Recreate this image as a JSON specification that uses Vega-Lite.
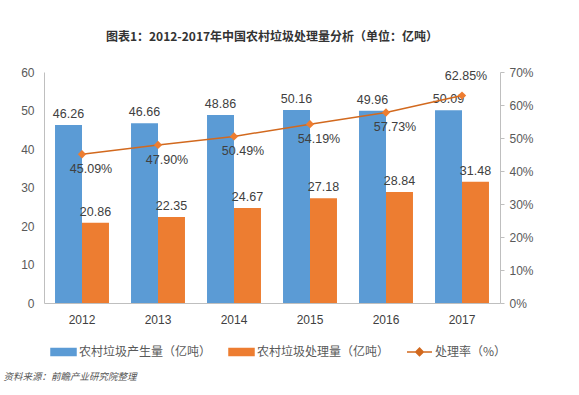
{
  "$schema": "https://vega.github.io/schema/vega-lite/v6.json",
  "autosize": "none",
  "width": 456,
  "height": 231,
  "padding": {"left": 44, "top": 72, "right": 79, "bottom": 92},
  "background": "#ffffff",
  "title": {
    "text": "图表1：2012-2017年中国农村垃圾处理量分析（单位：亿吨）",
    "font": "Noto Sans CJK SC",
    "fontSize": 12,
    "fontWeight": "bold",
    "color": "#333333",
    "offset": 22
  },
  "config": {
    "view": {"stroke": null},
    "font": "Noto Sans CJK SC"
  },
  "datasets": {
    "bars": [
      {"year": "2012", "series": "农村垃圾产生量（亿吨）", "value": 46.26},
      {"year": "2012", "series": "农村垃圾处理量（亿吨）", "value": 20.86},
      {"year": "2013", "series": "农村垃圾产生量（亿吨）", "value": 46.66},
      {"year": "2013", "series": "农村垃圾处理量（亿吨）", "value": 22.35},
      {"year": "2014", "series": "农村垃圾产生量（亿吨）", "value": 48.86},
      {"year": "2014", "series": "农村垃圾处理量（亿吨）", "value": 24.67},
      {"year": "2015", "series": "农村垃圾产生量（亿吨）", "value": 50.16},
      {"year": "2015", "series": "农村垃圾处理量（亿吨）", "value": 27.18},
      {"year": "2016", "series": "农村垃圾产生量（亿吨）", "value": 49.96},
      {"year": "2016", "series": "农村垃圾处理量（亿吨）", "value": 28.84},
      {"year": "2017", "series": "农村垃圾产生量（亿吨）", "value": 50.09},
      {"year": "2017", "series": "农村垃圾处理量（亿吨）", "value": 31.48}
    ],
    "rate": [
      {"year": "2012", "rate": 0.4509},
      {"year": "2013", "rate": 0.4790},
      {"year": "2014", "rate": 0.5049},
      {"year": "2015", "rate": 0.5419},
      {"year": "2016", "rate": 0.5773},
      {"year": "2017", "rate": 0.6285}
    ]
  },
  "encoding": {
    "x": {
      "field": "year",
      "type": "nominal",
      "scale": {"paddingInner": 0.29, "paddingOuter": 0.145},
      "axis": {
        "title": "资料来源：前瞻产业研究院整理",
        "titleFont": "Noto Sans CJK SC",
        "titleFontSize": 9.5,
        "titleFontStyle": "italic",
        "titleFontWeight": "normal",
        "titleColor": "#555555",
        "titleX": -41,
        "titleY": 73,
        "titleAlign": "left",
        "titleBaseline": "middle",
        "labelAngle": 0,
        "labelFont": "Liberation Sans",
        "labelFontSize": 12,
        "labelColor": "#404040",
        "labelPadding": 11,
        "ticks": false,
        "domainColor": "#bfbfbf",
        "grid": false
      }
    }
  },
  "layer": [
    {
      "data": {"name": "bars"},
      "encoding": {
        "xOffset": {"field": "series", "type": "nominal", "sort": ["农村垃圾产生量（亿吨）", "农村垃圾处理量（亿吨）"]},
        "y": {
          "field": "value",
          "type": "quantitative",
          "scale": {"domain": [0, 60], "nice": false},
          "axis": {
            "title": null,
            "values": [0, 10, 20, 30, 40, 50, 60],
            "grid": false,
            "ticks": false,
            "domainColor": "#bfbfbf",
            "labelFont": "Liberation Sans",
            "labelFontSize": 12,
            "labelColor": "#595959",
            "labelPadding": 10
          }
        }
      },
      "layer": [
        {
          "mark": {"type": "bar"},
          "encoding": {
            "color": {
              "field": "series",
              "type": "nominal",
              "scale": {
                "domain": ["农村垃圾产生量（亿吨）", "农村垃圾处理量（亿吨）", "处理率（%）"],
                "range": ["#5B9BD5", "#ED7D31", "#D2691E"]
              },
              "legend": {
                "title": null,
                "orient": "none",
                "direction": "horizontal",
                "legendX": 6,
                "legendY": 266,
                "symbolSize": 625,
                "labelFont": "Noto Sans CJK SC",
                "labelFontSize": 12,
                "labelColor": "#595959",
                "labelOffset": 2,
                "columnPadding": 14,
                "encode": {
                  "symbols": {
                    "update": {
                      "shape": {"signal": "datum.value === '处理率（%）' ? 'M-1,0L1,0M0,-0.3L0.3,0L0,0.3L-0.3,0Z' : 'M-1,-0.28L1,-0.28L1,0.28L-1,0.28Z'"},
                      "stroke": {"signal": "datum.value === '处理率（%）' ? '#D2691E' : 'transparent'"},
                      "fill": {"signal": "datum.value === '处理率（%）' ? '#ED7D31' : scale('color', datum.value)"},
                      "strokeWidth": {"value": 1.5},
                      "opacity": {"value": 1}
                    }
                  }
                }
              }
            }
          }
        },
        {
          "mark": {"type": "text", "baseline": "bottom", "dy": -4, "font": "Liberation Sans", "fontSize": 12.5, "color": "#404040"},
          "encoding": {
            "text": {"field": "value", "type": "quantitative", "format": ".2f"}
          }
        }
      ]
    },
    {
      "data": {"name": "rate"},
      "encoding": {
        "y": {
          "field": "rate",
          "type": "quantitative",
          "scale": {"domain": [0, 0.7], "nice": false},
          "axis": {
            "title": null,
            "orient": "right",
            "format": ".0%",
            "values": [0, 0.1, 0.2, 0.3, 0.4, 0.5, 0.6, 0.7],
            "grid": false,
            "ticks": true,
            "tickSize": 4,
            "tickColor": "#bfbfbf",
            "domainColor": "#bfbfbf",
            "labelFont": "Liberation Sans",
            "labelFontSize": 12,
            "labelColor": "#595959",
            "labelPadding": 5
          }
        }
      },
      "layer": [
        {
          "mark": {"type": "line", "color": "#D2691E", "strokeWidth": 1.5},
          "encoding": {"color": {"datum": "处理率（%）"}}
        },
        {
          "mark": {"type": "point", "shape": "diamond", "filled": true, "size": 70, "opacity": 1, "color": "#ED7D31"},
          "encoding": {}
        },
        {
          "transform": [{"filter": "datum.year !== '2017'"}],
          "mark": {"type": "text", "baseline": "middle", "dx": 9, "dy": 15, "font": "Liberation Sans", "fontSize": 12.5, "color": "#404040"},
          "encoding": {"text": {"field": "rate", "type": "quantitative", "format": ".2%"}}
        },
        {
          "transform": [{"filter": "datum.year === '2017'"}],
          "mark": {"type": "text", "baseline": "middle", "dx": 4, "dy": -20, "font": "Liberation Sans", "fontSize": 12.5, "color": "#404040"},
          "encoding": {"text": {"field": "rate", "type": "quantitative", "format": ".2%"}}
        }
      ]
    }
  ],
  "resolve": {"scale": {"y": "independent"}}
}
